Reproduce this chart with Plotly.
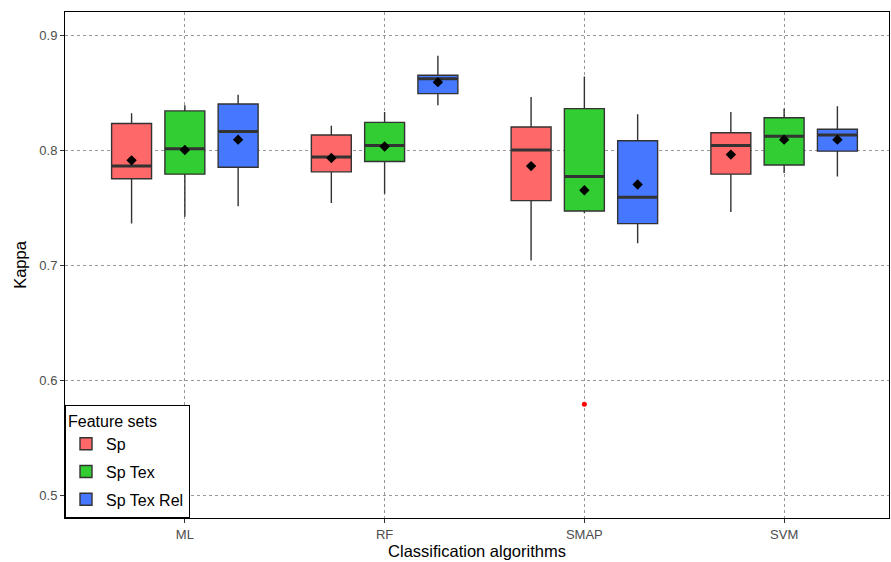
import plotly.graph_objects as go

categories = ["ML", "RF", "SMAP", "SVM"]
feature_sets = ["Sp", "Sp Tex", "Sp Tex Rel"]
colors = ["rgb(255,104,104)", "rgb(50,205,50)", "rgb(70,120,255)"]

# statistics per feature set, in category order ML, RF, SMAP, SVM
sp_low = [0.736, 0.754, 0.704, 0.746]
sp_q1 = [0.775, 0.781, 0.756, 0.779]
sp_med = [0.786, 0.794, 0.800, 0.804]
sp_q3 = [0.823, 0.813, 0.820, 0.815]
sp_high = [0.832, 0.821, 0.846, 0.833]
sp_mean = [0.791, 0.793, 0.786, 0.796]

tex_low = [0.742, 0.762, 0.745, 0.780]
tex_q1 = [0.779, 0.790, 0.747, 0.787]
tex_med = [0.801, 0.804, 0.777, 0.812]
tex_q3 = [0.834, 0.824, 0.836, 0.828]
tex_high = [0.839, 0.833, 0.864, 0.836]
tex_mean = [0.800, 0.803, 0.765, 0.809]

rel_low = [0.751, 0.839, 0.719, 0.777]
rel_q1 = [0.785, 0.849, 0.736, 0.799]
rel_med = [0.816, 0.862, 0.759, 0.813]
rel_q3 = [0.840, 0.865, 0.808, 0.818]
rel_high = [0.848, 0.882, 0.831, 0.838]
rel_mean = [0.809, 0.859, 0.770, 0.809]

outlier_category = ["SMAP"]
outlier_set = ["Sp Tex"]
outlier_value = [0.579]

stats = [
    (sp_low, sp_q1, sp_med, sp_q3, sp_high, sp_mean),
    (tex_low, tex_q1, tex_med, tex_q3, tex_high, tex_mean),
    (rel_low, rel_q1, rel_med, rel_q3, rel_high, rel_mean),
]

dodge = 0.2667
box_w = 0.2
offsets = [-dodge, 0.0, dodge]

fig = go.Figure()
line_col = "#333333"

for k, name in enumerate(feature_sets):
    low, q1, med, q3, high, mean = stats[k]
    xs = [i + offsets[k] for i in range(len(categories))]
    fig.add_trace(go.Box(
        x=xs, q1=q1, median=med, q3=q3, lowerfence=low, upperfence=high,
        name=name, fillcolor=colors[k], width=box_w, whiskerwidth=0,
        line=dict(color=line_col, width=1.4), boxpoints=False,
        legendgroup=name, hoverinfo="skip",
    ))

for k, name in enumerate(feature_sets):
    low, q1, med, q3, high, mean = stats[k]
    mx, my = [], []
    for i in range(len(categories)):
        c = i + offsets[k]
        mx += [c - box_w / 2, c + box_w / 2, None]
        my += [med[i], med[i], None]
    fig.add_trace(go.Scatter(x=mx, y=my, mode="lines",
                             line=dict(color=line_col, width=3),
                             showlegend=False, hoverinfo="skip"))

for k, name in enumerate(feature_sets):
    mean = stats[k][5]
    xs = [i + offsets[k] for i in range(len(categories))]
    fig.add_trace(go.Scatter(x=xs, y=mean, mode="markers",
                             marker=dict(symbol="diamond", color="black", size=8),
                             showlegend=False, hoverinfo="skip"))

ox = [categories.index(c) + offsets[feature_sets.index(s)]
      for c, s in zip(outlier_category, outlier_set)]
fig.add_trace(go.Scatter(x=ox, y=outlier_value, mode="markers",
                         marker=dict(color="red", size=5),
                         showlegend=False, hoverinfo="skip"))

fig.update_layout(
    width=891, height=562,
    margin=dict(l=65, r=2, t=12, b=44),
    plot_bgcolor="white", paper_bgcolor="white",
    font=dict(family="Liberation Sans, Arial, sans-serif", color="black"),
    boxmode="overlay",
    showlegend=True,
    legend=dict(
        title=dict(text="Feature sets", font=dict(size=16)),
        font=dict(size=16),
        x=0, y=0, xanchor="left", yanchor="bottom",
        bgcolor="white", bordercolor="black", borderwidth=1,
        tracegroupgap=4,
    ),
    xaxis=dict(
        range=[-0.6, 3.525],
        tickvals=list(range(len(categories))), ticktext=categories,
        showgrid=True, gridcolor="#999999", griddash="dot", gridwidth=1,
        zeroline=False,
        showline=True, linecolor="black", linewidth=1, mirror=True,
        ticks="outside", ticklen=4, tickcolor="#333333",
        tickfont=dict(size=13, color="#4d4d4d"),
        title=dict(text="Classification algorithms", font=dict(size=16.5), standoff=4),
    ),
    yaxis=dict(
        range=[0.48, 0.92],
        tickvals=[0.5, 0.6, 0.7, 0.8, 0.9],
        showgrid=True, gridcolor="#999999", griddash="dot", gridwidth=1,
        zeroline=False,
        showline=True, linecolor="black", linewidth=1, mirror=True,
        ticks="outside", ticklen=4, tickcolor="#333333",
        tickfont=dict(size=13, color="#4d4d4d"),
        title=dict(text="Kappa", font=dict(size=16.5), standoff=8),
    ),
)

fig.write_html("out.html")
